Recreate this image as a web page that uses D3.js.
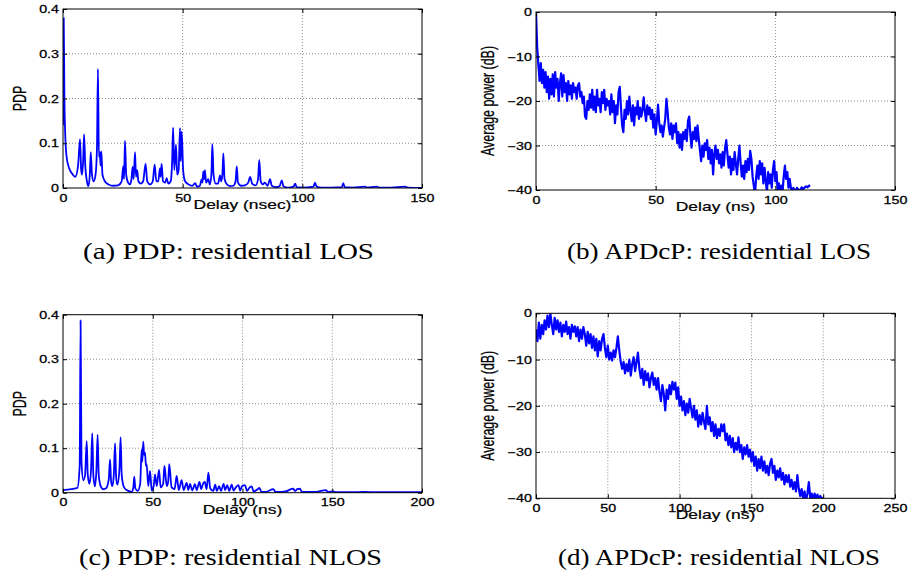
<!DOCTYPE html>
<html>
<head>
<meta charset="utf-8">
<title>PDP / APDcP residential</title>
<style>
  body { margin: 0; background: #fff; }
  svg { display: block; }
</style>
</head>
<body>
<svg id="fig" width="911" height="576"></svg>
<script src="https://d3js.org/d3.v7.min.js"></script>
<script>
// (a) PDP, residential LOS: [delay (nsec), PDP]
const pdpLos = [
  [0,0.14],[0.3,0.38],[0.6,0.2],[1.0,0.11],[1.5,0.07],[2.5,0.045],[3.7,0.033],[5.1,0.025],
  [6.3,0.05],[7.1,0.109],[7.6,0.04],[8.0,0.03],[8.4,0.06],[8.8,0.12],[9.3,0.05],[10,0.015],
  [10.6,0.004],[11.2,0.03],[11.6,0.08],[12.1,0.03],[12.8,0.015],[13.6,0.03],[14.2,0.09],[14.6,0.266],
  [15.0,0.07],[15.4,0.08],[15.7,0.05],[16,0.082],[16.5,0.03],[17.5,0.015],[19,0.008],[21,0.005],
  [23,0.006],[24.5,0.015],[25.2,0.049],[25.5,0.02],[25.9,0.105],[26.4,0.03],[27.2,0.012],[28,0.008],
  [28.6,0.02],[29.1,0.047],[29.5,0.02],[30.1,0.08],[30.5,0.025],[31,0.04],[31.5,0.015],[32.5,0.01],
  [33.5,0.015],[34.5,0.054],[35.2,0.015],[36.5,0.008],[37.5,0.015],[38.3,0.052],[39,0.015],[39.8,0.015],
  [40.5,0.044],[40.8,0.025],[41.2,0.054],[41.8,0.015],[42.7,0.012],[43.3,0.022],[44,0.01],[45,0.015],
  [45.6,0.06],[46.0,0.135],[46.5,0.04],[47.2,0.097],[47.7,0.03],[48.3,0.04],[48.9,0.134],[49.2,0.06],
  [49.6,0.126],[50.2,0.04],[51,0.015],[52.5,0.008],[54,0.005],[55.2,0.011],[56,0.003],[57.2,0.005],
  [57.9,0.019],[58.3,0.012],[58.6,0.037],[59,0.02],[59.3,0.04],[59.8,0.012],[60.7,0.02],[61.3,0.008],
  [62,0.03],[62.4,0.098],[62.9,0.03],[63.8,0.01],[64.8,0.01],[65.6,0.028],[66.1,0.015],[66.6,0.03],
  [67,0.0775],[67.5,0.02],[68.5,0.008],[70,0.004],[71.2,0.005],[72.1,0.015],[72.6,0.048],[73.1,0.012],
  [74.5,0.005],[76,0.006],[77.4,0.012],[78.2,0.025],[79,0.01],[80.5,0.006],[81.5,0.02],[82.0,0.063],
  [82.6,0.015],[83.5,0.008],[84.3,0.012],[85.5,0.005],[86.5,0.02],[87.2,0.005],[89,0.002],[90.5,0.004],
  [91.4,0.017],[92.1,0.004],[94,0.001],[96.3,0.003],[97,0.01],[97.6,0.002],[100,0.001],[104.6,0.003],
  [105.3,0.012],[106,0.003],[108,0.001],[112,0.001],[116.5,0.002],[117.1,0.011],[117.7,0.002],[121,0.001],
  [126.2,0.003],[127,0.001],[131.1,0.003],[132,0.001],[137,0.001],[142.9,0.003],[144,0.001],[150,0.0005]
];

// (c) PDP, residential NLOS: [delay (ns), PDP]
const pdpNlos = [
  [0,0.006],[8,0.011],[9.3,0.06],[9.8,0.387],[10.3,0.07],[11.3,0.028],[12.3,0.04],[13.2,0.116],
  [13.8,0.04],[14.7,0.02],[15.6,0.05],[16.3,0.133],[16.9,0.04],[17.8,0.014],[18.6,0.05],[19.3,0.13],
  [19.9,0.04],[21,0.015],[22.5,0.008],[24,0.01],[25.5,0.03],[26.2,0.075],[26.8,0.025],[27.5,0.015],
  [28.3,0.04],[29,0.111],[29.6,0.035],[30.3,0.018],[31.4,0.05],[32.1,0.124],[32.7,0.04],[34,0.012],
  [36.4,0.004],[38.3,0.002],[39.2,0.012],[39.7,0.036],[40.3,0.01],[41.6,0.004],[43,0.02],[43.8,0.096],
  [44.2,0.07],[44.7,0.115],[45.2,0.085],[45.7,0.09],[46.2,0.06],[46.6,0.064],[47.5,0.015],[48.5,0.049],
  [49.4,0.005],[50.5,0.015],[51.3,0.041],[52.2,0.015],[53.5,0.051],[54.4,0.012],[55.8,0.02],[56.5,0.06],
  [57.8,0.015],[58.6,0.025],[59.2,0.064],[60.5,0.012],[62.2,0.008],[63.3,0.038],[64.5,0.006],[66.1,0.028],
  [67.2,0.006],[68.9,0.022],[69.8,0.006],[70.8,0.02],[72,0.005],[73.5,0.019],[74.5,0.006],[76,0.024],
  [77,0.008],[78,0.02],[79,0.024],[80,0.008],[81,0.045],[82,0.01],[83.7,0.004],[84.8,0.018],
  [85.7,0.004],[87,0.015],[88,0.004],[89.5,0.02],[90.3,0.006],[91.5,0.017],[92.6,0.004],[94,0.018],
  [95,0.005],[96.3,0.012],[97.7,0.017],[98.7,0.005],[99.8,0.015],[101.4,0.017],[102.5,0.004],[104,0.012],
  [105.1,0.014],[106.2,0.003],[108.5,0.008],[109.4,0.011],[110.5,0.002],[113,0.002],[117.2,0.008],[118.3,0.002],
  [122,0.002],[124,0.003],[128.3,0.009],[129.2,0.004],[130.5,0.008],[132,0.009],[133,0.002],[137,0.002],
  [141,0.002],[146.5,0.006],[147.5,0.002],[150.5,0.003],[152,0.001],[160,0.001],[168,0.002],[175,0.001],
  [185,0.001],[200,0.001]
];

// (b) APDcP, residential LOS, average power (dB), one value every 0.5 ns from 0
const apdLosStep = 0.5;
const apdLos = [
  0,-8,-12,-15.5,-11.5,-16,-13,-17,-13.5,-18,
  -14.5,-19.5,-15,-18.5,-14,-19,-13.5,-17,-15,-20,
  -16,-13.8,-19,-14.2,-18,-16,-20,-15.5,-18.5,-16.5,
  -19.5,-16,-18,-17,-19.5,-16.5,-16,-19,-18,-20.5,
  -19,-23.5,-24,-20,-22,-18.5,-21.5,-17.5,-22,-19,
  -22.5,-17.5,-21,-19.5,-22.5,-18,-20.5,-17.5,-22,-19.5,
  -21,-20,-23,-18.5,-22.5,-20,-25,-21,-23,-18,
  -16.8,-21.5,-25.5,-27,-22,-24,-20,-23,-19,-22,
  -24.5,-21,-25.5,-21.5,-23,-20,-24,-21.5,-23.5,-22,
  -19.2,-22.5,-24.5,-21,-23,-21.5,-24,-22,-26,-23,
  -27.5,-24.5,-20.8,-25,-27,-25.5,-28,-26,-24,-19.5,
  -22.5,-26,-27.5,-25,-28.5,-25.5,-27,-25,-29.5,-27,
  -30.5,-27.5,-31,-27,-28.5,-26.5,-29,-24.5,-23.5,-27.5,
  -30.5,-27,-28.5,-26,-29,-25.5,-28.5,-31,-33.5,-30,
  -32.5,-29.5,-31,-28.8,-33,-30.5,-34,-31,-36.5,-32,
  -30,-33,-31,-34,-32,-35,-31.5,-34.5,-30.5,-28.8,
  -32,-35,-32.5,-36.5,-33,-35.5,-31.5,-34,-36.5,-33,
  -30,-34,-37,-34.5,-37.5,-33.5,-36,-33,-35.5,-31.2,
  -33,-37,-39,-41,-37,-34.5,-37.5,-33.5,-36.5,-34,
  -38.5,-35,-38,-40.5,-36,-38.5,-36.5,-39.5,-35.5,-33.5,
  -38,-36,-40.5,-38.5,-41,-39,-40.5,-37,-34.5,-37.5,
  -36,-39.5,-37.5,-39.5,-40.5,-39.5,-40,-40.5,-39.5,-39.8,
  -40.3,-39.9,-39.4,-39.8,-39.6,-39.3,-39.2,-39.4,-39.1,-38.9
];

// (d) APDcP, residential NLOS, average power (dB), one value every 1 ns from 0
const apdNlosStep = 1;
const apdNlos = [
  -3.5,-6,-2,-5.5,-2.5,-4.5,-1.5,-3.5,-0.5,-3,
  0,-2.5,-4.5,-1,-3.5,-1.5,-4,-2,-5,-2.5,
  -4,-1.8,-4.5,-3,-5.5,-2.5,-4,-2.8,-5,-3,
  -6,-3.5,-5.5,-3,-4.5,-7,-4,-6.5,-4.5,-7.5,
  -5,-8,-5.5,-9.3,-6,-8,-5.5,-4.5,-7.5,-9.5,
  -7,-10,-8.5,-10.2,-8,-9.5,-7.5,-5,-8,-10.5,
  -12,-10.5,-13,-11,-12.5,-10,-13.5,-11,-9.5,-12.5,
  -10.5,-8.5,-12,-14,-12,-15.5,-12.5,-14.5,-13,-16,
  -14,-12.8,-15.5,-14,-16.5,-14,-17,-19,-15.5,-17.5,
  -21,-16.5,-18.5,-15.5,-17.5,-14.8,-16.5,-15,-18.5,-16,
  -20,-18,-21,-19,-22,-19.5,-21.5,-18.5,-20.5,-22.5,
  -20,-23,-21,-24.5,-22,-24,-21.5,-23.5,-25,-20,
  -24,-22.5,-25.5,-23.5,-26.5,-24,-27,-25,-26.5,-24,
  -25.5,-24,-27.5,-26,-28.5,-26.5,-29,-27,-30,-28,
  -29.5,-26.8,-30,-28.5,-31.5,-29,-30.5,-28.5,-31,-29.5,
  -32,-30,-33,-31,-34,-31.5,-33.5,-31,-34,-32,
  -34.5,-33,-35,-32.5,-31.5,-34.5,-33,-36,-34,-35.5,
  -33.5,-36,-34.5,-37,-35,-36.5,-35,-37.5,-36,-38,
  -36.5,-38.5,-35,-38,-39.5,-38,-40,-38.5,-40.5,-39,
  -36.5,-40,-39,-40.5,-39,-40,-39.2,-40.3,-39.5,-40.2,
  -39.8
];

const pdpTicks = [0, 0.1, 0.2, 0.3, 0.4];
const dbTicks = [-40, -30, -20, -10, 0];
const delayTicksA = [0, 50, 100, 150];
const delayTicksB = [0, 50, 100, 150];
const delayTicksC = [0, 50, 100, 150, 200];
const delayTicksD = [0, 50, 100, 150, 200, 250];
const captions = [
  "(a) PDP: residential LOS",
  "(b) APDcP: residential LOS",
  "(c) PDP: residential NLOS",
  "(d) APDcP: residential NLOS"
];

const SX = 1.43;            // the figure is stretched horizontally
const SANS = "'Liberation Sans', Arial, Helvetica, sans-serif";
const SERIF = "'Liberation Serif', 'Times New Roman', serif";
const svg = d3.select("#fig");
const defs = svg.append("defs");

const pdpFmt = d => d === 0 ? "0" : d3.format(".1f")(d);
const dbFmt = d3.format("d");

const panels = [
  { id: "a", left: 63, right: 422, top: 9, bottom: 188,
    xdom: [0, 150], ydom: [0, 0.4], xticks: delayTicksA, yticks: pdpTicks, yfmt: pdpFmt,
    xlabel: "Delay (nsec)", ylabel: "PDP", ylabelX: 26, lw: 1.8,
    data: pdpLos, curve: d3.curveMonotoneX },
  { id: "b", left: 536, right: 895, top: 12, bottom: 190,
    xdom: [0, 150], ydom: [-40, 0], xticks: delayTicksB, yticks: dbTicks, yfmt: dbFmt,
    xlabel: "Delay (ns)", ylabel: "Average power (dB)", ylabelX: 494, lw: 2.2,
    data: apdLos.map((v, i) => [i * apdLosStep, v]), curve: d3.curveLinear },
  { id: "c", left: 63, right: 422, top: 314.7, bottom: 492.7,
    xdom: [0, 200], ydom: [0, 0.4], xticks: delayTicksC, yticks: pdpTicks, yfmt: pdpFmt,
    xlabel: "Delay (ns)", ylabel: "PDP", ylabelX: 26, lw: 1.8,
    data: pdpNlos, curve: d3.curveMonotoneX },
  { id: "d", left: 536, right: 895, top: 313.3, bottom: 498.3,
    xdom: [0, 250], ydom: [-40, 0], xticks: delayTicksD, yticks: dbTicks, yfmt: dbFmt,
    xlabel: "Delay (ns)", ylabel: "Average power (dB)", ylabelX: 494, lw: 2.2,
    data: apdNlos.map((v, i) => [i * apdNlosStep, v]), curve: d3.curveLinear }
];

function drawPanel(p) {
  const x = d3.scaleLinear().domain(p.xdom).range([p.left, p.right]);
  const y = d3.scaleLinear().domain(p.ydom).range([p.bottom, p.top]);
  const g = svg.append("g");

  // dotted grid
  const grid = g.append("g").attr("stroke", "#8c8c8c").attr("stroke-width", 1)
      .attr("stroke-dasharray", "1,2");
  grid.selectAll(".gx").data(p.xticks.filter(d => d > p.xdom[0] && d < p.xdom[1])).join("line")
      .attr("x1", d => x(d)).attr("x2", d => x(d)).attr("y1", p.top).attr("y2", p.bottom);
  grid.selectAll(".gy").data(p.yticks.filter(d => d > p.ydom[0] && d < p.ydom[1])).join("line")
      .attr("y1", d => y(d)).attr("y2", d => y(d)).attr("x1", p.left).attr("x2", p.right);

  // trace
  defs.append("clipPath").attr("id", "clip-" + p.id)
    .append("rect").attr("x", p.left).attr("y", p.top)
      .attr("width", p.right - p.left).attr("height", p.bottom - p.top);
  g.append("path").datum(p.data)
      .attr("clip-path", `url(#clip-${p.id})`)
      .attr("fill", "none").attr("stroke", "#0000ff").attr("stroke-width", p.lw)
      .attr("stroke-linejoin", "round")
      .attr("d", d3.line().x(d => x(d[0])).y(d => y(d[1])).curve(p.curve));

  // axes, ticks pointing inwards
  const axes = [
    [d3.axisBottom(x).tickValues(p.xticks).tickFormat(d3.format("d")), `translate(0,${p.bottom})`],
    [d3.axisTop(x).tickValues(p.xticks).tickFormat(""), `translate(0,${p.top})`],
    [d3.axisLeft(y).tickValues(p.yticks).tickFormat(p.yfmt), `translate(${p.left},0)`],
    [d3.axisRight(y).tickValues(p.yticks).tickFormat(""), `translate(${p.right},0)`]
  ];
  axes.forEach(([ax, tr], i) => {
    const a = g.append("g").attr("transform", tr)
        .attr("font-family", SANS).attr("font-size", 13.2)
        .call(ax.tickSizeInner(-4).tickSizeOuter(0));
    a.select(".domain").remove();
    a.selectAll("text").attr("stroke", "#000").attr("stroke-width", 0.25);
    if (i === 0) {
      a.selectAll("text").attr("y", null).attr("dy", null).attr("fill", "#000")
        .attr("transform", `translate(0,13.5) scale(${SX},1)`);
    }
    if (i === 2) {
      a.selectAll("text").attr("x", null).attr("dy", "0.36em").attr("fill", "#000")
        .attr("transform", `translate(-4,0) scale(${SX},1)`);
    }
  });

  // box
  g.append("rect").attr("x", p.left).attr("y", p.top)
      .attr("width", p.right - p.left).attr("height", p.bottom - p.top)
      .attr("fill", "none").attr("stroke", "#000").attr("stroke-width", 1);

  // labels
  g.append("text")
      .attr("transform", `translate(${(p.left + p.right) / 2},${p.bottom + 21}) scale(${SX},1)`)
      .attr("text-anchor", "middle").attr("font-family", SANS).attr("font-size", 12.2)
      .attr("stroke", "#000").attr("stroke-width", 0.2)
      .text(p.xlabel);
  g.append("text")
      .attr("transform", `translate(${p.ylabelX},${(p.top + p.bottom) / 2}) scale(${SX},1) rotate(-90)`)
      .attr("text-anchor", "middle").attr("font-family", SANS).attr("font-size", 12.4)
      .attr("stroke", "#000").attr("stroke-width", 0.2)
      .text(p.ylabel);
}

panels.forEach(drawPanel);

// sub-figure captions: centre x, baseline y, overall width
const captionPos = [[228.5, 259, 291], [719, 259, 304], [230.5, 565, 303], [719, 565, 322]];
svg.append("g").selectAll("text").data(captions).join("text")
    .attr("x", (d, i) => captionPos[i][0]).attr("y", (d, i) => captionPos[i][1])
    .attr("text-anchor", "middle").attr("font-family", SERIF).attr("font-size", 22.5)
    .attr("textLength", (d, i) => captionPos[i][2]).attr("lengthAdjust", "spacingAndGlyphs")
    .text(d => d);
</script>
</body>
</html>
